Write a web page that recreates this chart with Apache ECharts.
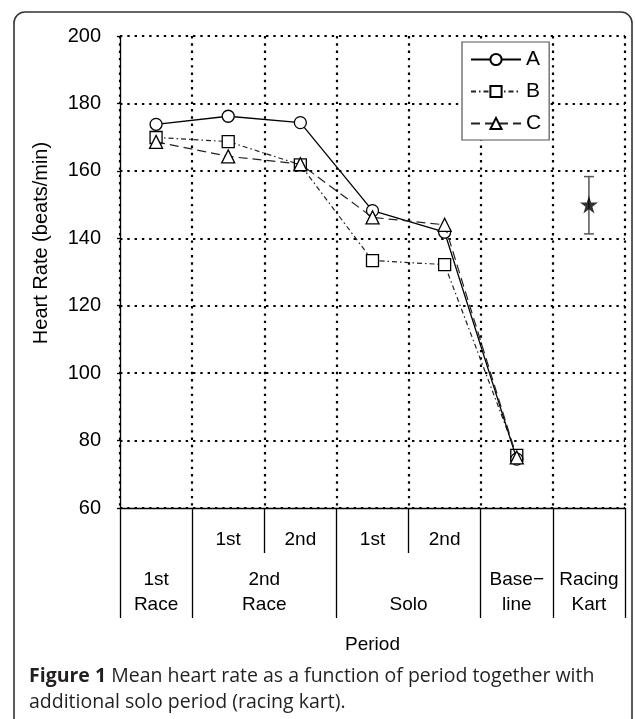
<!DOCTYPE html>
<html>
<head>
<meta charset="utf-8">
<script src="https://cdn.jsdelivr.net/npm/echarts@6/dist/echarts.min.js"></script>
<style>
  html, body { margin: 0; padding: 0; background: #fff; }
  #chart { width: 635px; height: 719px; }
</style>
</head>
<body>
<div id="chart"></div>
<script>
// periods along the x axis (one column each)
const periods = ["1st Race", "2nd Race 1st", "2nd Race 2nd", "Solo 1st", "Solo 2nd", "Baseline", "Racing Kart"];
// upper label row (sub periods), lower label row (groups spanning columns)
const subLabels = ["", "1st", "2nd", "1st", "2nd", "", ""];
const groupLabels = [["1st", "Race"], ["2nd", "Race"], ["", "Solo"], ["Base\u2212", "line"], ["Racing", "Kart"]];
const groupSpans = [1, 2, 2, 1, 1];

// mean heart rate (beats/min)
const seriesA = [173.8, 176.2, 174.3, 148.2, 141.8, 74.5, null];
const seriesB = [169.9, 168.7, 161.8, 133.4, 132.2, 75.6, null];
const seriesC = [168.6, 164.3, 162.0, 146.2, 144.0, 75.0, null];

// additional solo period with racing kart (mean and range)
const kartMean = 150;
const kartLow = 141.3;
const kartHigh = 158.3;

const yTicks = { min: 60, max: 200, step: 20 };

// group boundaries / centers worked out from spans
const groupEdges = [0];
groupSpans.forEach((s) => groupEdges.push(groupEdges[groupEdges.length - 1] + s));
const groupCenters = groupSpans.map((s, i) => groupEdges[i] + s / 2);
const subCenters = [];
const subEdges = [];
subLabels.forEach((t, i) => {
  if (t) subCenters.push(i + 0.5);
});
groupSpans.forEach((s, i) => {
  for (let k = 1; k < s; k++) subEdges.push(groupEdges[i] + k);
});

const FONT = "Liberation Sans, Arial, sans-serif";
const STAR = "path://M50,0 L61.2,34.5 L97.6,34.5 L68.2,55.9 L79.4,90.5 L50,69.1 L20.6,90.5 L31.8,55.9 L2.4,34.5 L38.8,34.5 Z";

const chart = echarts.init(document.getElementById("chart"), null, { renderer: "canvas" });

const dotted = { color: "#000", width: 2.2, type: [2.4, 4.9] };
const markStyle = { color: "#fff", borderColor: "#000", borderWidth: 1.3 };

const option = {
  animation: false,
  backgroundColor: "#fff",
  grid: { left: 120, right: 10, top: 36, bottom: 211, containLabel: false },
  legend: {
    orient: "vertical",
    left: 462,
    top: 42,
    padding: [7, 8, 6, 8],
    itemWidth: 50,
    itemHeight: 14,
    itemGap: 11,
    borderColor: "#555",
    borderWidth: 1.2,
    backgroundColor: "#fff",
    textStyle: { fontFamily: FONT, fontSize: 21, color: "#000", padding: [0, 0, 0, 0] },
    data: ["A", "B", "C"],
  },
  xAxis: [
    {
      type: "category",
      data: periods,
      position: "bottom",
      boundaryGap: true,
      axisLine: { lineStyle: { color: "#000", width: 1.3 } },
      axisTick: { show: false },
      axisLabel: { show: false },
      splitLine: { show: true, interval: 0, lineStyle: dotted },
    },
    {
      // long separators and the group labels
      type: "value",
      min: 0,
      max: periods.length,
      position: "bottom",
      axisLine: { show: false },
      splitLine: { show: false },
      axisTick: {
        show: true,
        customValues: groupEdges,
        length: 110,
        lineStyle: { color: "#000", width: 1.3 },
      },
      axisLabel: {
        customValues: groupCenters,
        margin: 59,
        fontFamily: FONT,
        fontSize: 19,
        lineHeight: 25,
        color: "#000",
        formatter: (v) => {
          const i = groupCenters.indexOf(v);
          return i < 0 ? "" : groupLabels[i].join("\n");
        },
      },
      name: "Period",
      nameLocation: "middle",
      nameGap: 127,
      nameTextStyle: { fontFamily: FONT, fontSize: 19, color: "#000" },
    },
    {
      // short separators and the sub period labels
      type: "value",
      min: 0,
      max: periods.length,
      position: "bottom",
      axisLine: { show: false },
      splitLine: { show: false },
      axisTick: {
        show: true,
        customValues: subEdges,
        length: 45,
        lineStyle: { color: "#000", width: 1.3 },
      },
      axisLabel: {
        customValues: subCenters,
        margin: 22,
        fontFamily: FONT,
        fontSize: 19,
        color: "#000",
        formatter: (v) => subLabels[Math.floor(v)] || "",
      },
    },
  ],
  yAxis: {
    type: "value",
    min: yTicks.min,
    max: yTicks.max,
    interval: yTicks.step,
    axisLine: { show: true, lineStyle: { color: "#000", width: 1.3 } },
    axisTick: { show: true, length: 3, lineStyle: { color: "#000", width: 1.3 } },
    axisLabel: { margin: 19, fontFamily: FONT, fontSize: 20, color: "#000" },
    splitLine: { show: true, lineStyle: dotted },
  },
  graphic: [
    {
      type: "rect",
      silent: true,
      z: -10,
      shape: { x: 14, y: 12, width: 618, height: 760, r: [11, 11, 0, 0] },
      style: { fill: null, stroke: "#333", lineWidth: 1.6 },
    },
    {
      type: "text",
      x: 41,
      y: 243,
      rotation: Math.PI / 2,
      style: {
        text: "Heart Rate (beats/min)",
        font: "20px " + FONT,
        fill: "#000",
        align: "center",
        verticalAlign: "middle",
      },
    },
    {
      type: "text",
      left: 29,
      top: 663,
      style: {
        text: "{b|Figure 1} Mean heart rate as a function of period together with\nadditional solo period (racing kart).",
        fontFamily: "Open Sans, sans-serif",
        fontSize: 19.5,
        lineHeight: 26,
        fill: "#231f20",
        rich: { b: { fontWeight: "bold", fontFamily: "Open Sans, sans-serif", fontSize: 19.5, lineHeight: 26, fill: "#231f20" } },
      },
    },
  ],
  series: [
    {
      name: "A",
      type: "line",
      data: seriesA,
      symbol: "circle",
      symbolSize: 12,
      showAllSymbol: true,
      lineStyle: { color: "#000", width: 1.3, type: "solid" },
      itemStyle: markStyle,
      z: 4,
    },
    {
      name: "B",
      type: "line",
      data: seriesB,
      symbol: "rect",
      symbolSize: 12,
      showAllSymbol: true,
      lineStyle: { color: "#222", width: 1.2, type: [5, 3, 1.5, 3] },
      itemStyle: markStyle,
      z: 3,
    },
    {
      name: "C",
      type: "line",
      data: seriesC,
      symbol: "triangle",
      symbolSize: 13,
      showAllSymbol: true,
      lineStyle: { color: "#222", width: 1.2, type: [9, 5] },
      itemStyle: markStyle,
      z: 5,
    },
    {
      // range of the racing kart session
      type: "custom",
      data: [[periods.length - 1, kartMean, kartLow, kartHigh]],
      renderItem: (params, api) => {
        const lo = api.coord([api.value(0), api.value(2)]);
        const hi = api.coord([api.value(0), api.value(3)]);
        const w = 5;
        const st = { stroke: "#555", lineWidth: 1.5 };
        return {
          type: "group",
          children: [
            { type: "line", shape: { x1: lo[0], y1: lo[1], x2: hi[0], y2: hi[1] }, style: st },
            { type: "line", shape: { x1: lo[0] - w, y1: lo[1], x2: lo[0] + w, y2: lo[1] }, style: st },
            { type: "line", shape: { x1: hi[0] - w, y1: hi[1], x2: hi[0] + w, y2: hi[1] }, style: st },
          ],
        };
      },
      z: 2,
    },
    {
      type: "scatter",
      data: [[periods.length - 1, kartMean]],
      symbol: STAR,
      symbolSize: 18,
      itemStyle: { color: "#000" },
      z: 6,
    },
  ],
};

chart.setOption(option);
</script>
</body>
</html>
